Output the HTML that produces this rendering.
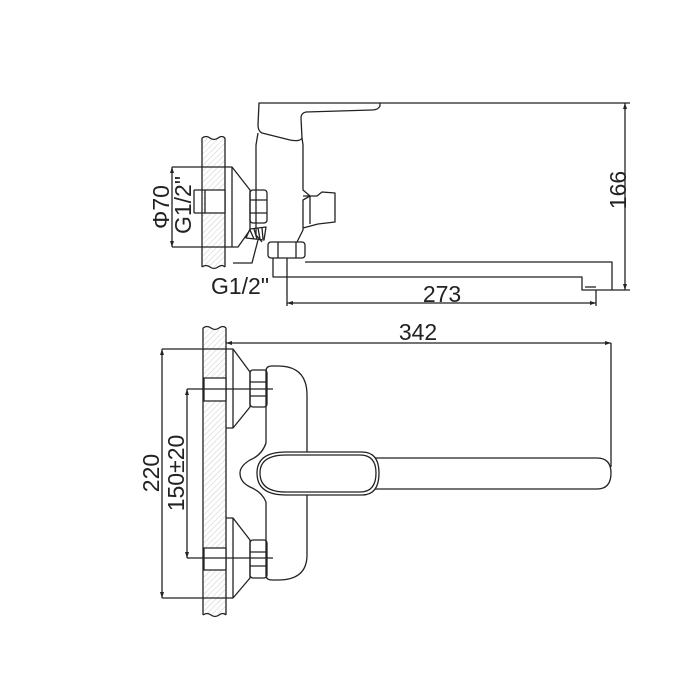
<!DOCTYPE html>
<html><head><meta charset="utf-8"><style>
html,body{margin:0;padding:0;background:#fff;}
svg{display:block;}
text{font-family:"Liberation Sans",sans-serif;fill:#222;}
</style></head><body>
<svg width="700" height="700" viewBox="0 0 700 700" xmlns="http://www.w3.org/2000/svg">
<defs>
<pattern id="h" width="4" height="4" patternUnits="userSpaceOnUse" patternTransform="rotate(45)">
<line x1="0" y1="0" x2="0" y2="4" stroke="#ccc" stroke-width="1"/>
</pattern>
</defs>
<g fill="none" stroke="#222" stroke-width="1.3" stroke-linejoin="round">
<rect x="203" y="138" width="22" height="129" fill="url(#h)" stroke="none"/>
<path d="M202 138 L202 267"/>
<path d="M225 138 L225 267"/>
<path d="M202 138 q4 -3 8 0 q4 3 8 0 q4 -3 7 0"/>
<path d="M202 267 q4 -3 8 0 q4 3 8 0 q4 -3 7 0"/>
<path d="M225 167 L232 167 L250 190 L250 230 L238 247 L225 247"/>
<path d="M232 167 L232 247"/>
<rect x="205" y="190" width="20" height="23" fill="#fff"/>
<path d="M172 167 L225 167 M172 247 L225 247 M172 167 L172 247"/>
<path d="M194 190 L205 190 M194 213 L205 213 M194 190 L194 213"/>
<rect x="250" y="190" width="17" height="33" rx="3"/>
<path d="M250 200 L267 200 M250 213 L267 213"/>
<path d="M246 238 L250 229 L266 227 L264 240 Z"/>
<path d="M250 230 L254 239 M254 229 L257 239 M258 228 L260 239 M262 228 L263 239"/>
<path d="M233 263 L252 263 L258 240"/>
<path d="M259 103 L380 103 L380 106 Q378 110 372 110 L306 112 Q301 113 301 118 L302 138 Q300 142 290 140 L262 133 Q258 131 258 125 Z"/>
<path d="M258 133 L256 145 L256 235 L262 242"/>
<path d="M302 138 L303 145 L303 190 L310 196 L303 200 L303 230 L297 242"/>
<path d="M303 196 L317 196 L322 192 L335 193 L335 222 L318 224 L303 228"/>
<path d="M310 196 L310 224"/>
<rect x="268" y="242" width="37" height="16" rx="3"/>
<path d="M278 242 L278 258 M296 242 L296 258"/>
<path d="M273 258 L273 277 L582 277 L582 290 L612 290 L612 262 L305 262"/>
<path d="M585 287 L596 287"/>
<path d="M380 103 L630 103 M612 290 L630 290 M625 103 L625 290"/>
<path d="M287 258 L287 306 M596 290 L596 306 M287 303 L596 303"/>

<rect x="204" y="330" width="22" height="284" fill="url(#h)" stroke="none"/>
<path d="M203 328 L203 615 M226 328 L226 615"/>
<path d="M203 328 q4 -3 8 0 q4 3 8 0 q4 -3 7 0"/>
<path d="M203 615 q4 -3 8 0 q4 3 8 0 q4 -3 7 0"/>
<path d="M226 349 L233 349 L250 372 L250 407 L233 428 L226 428"/>
<path d="M233 349 L233 428"/>
<path d="M226 518 L233 518 L250 540 L250 578 L233 598 L226 598"/>
<path d="M233 518 L233 598"/>
<rect x="204" y="378" width="22" height="23" fill="#fff"/>
<rect x="204" y="548" width="22" height="22" fill="#fff"/>
<rect x="250" y="370" width="17" height="37" rx="3"/>
<path d="M250 382 L267 382 M250 396 L267 396"/>
<rect x="250" y="540" width="17" height="38" rx="3"/>
<path d="M250 552 L267 552 M250 566 L267 566"/>
<path d="M266 443 L266 371 Q266 366 272 366 L278 366 Q307 366 307 395 L307 452"/>
<path d="M266 502 L266 575 Q266 580 272 580 L278 580 Q307 580 307 555 L307 490"/>
<path d="M266 443 Q262 455 250 460 Q240 466 240 473 Q240 482 250 487 Q262 492 266 502"/>
<path d="M286 452 L362 452 Q379 452 379 473 Q379 495 362 495 L286 495 Q257 495 257 473 Q257 452 286 452 Z" fill="#fff"/>
<path d="M286 455 L360 455 Q376 455 376 473 Q376 492 360 492 L286 492 Q260 492 260 473 Q260 455 286 455 Z"/>
<path d="M375 458 L597 458 Q611 458 611 473 Q611 489 597 489 L375 489"/>
<path d="M205 389 L273 389 M205 558 L273 558"/>
<path d="M226 343 L611 343 M611 343 L611 467"/>
<path d="M162 349 L226 349 M162 598 L226 598 M162 349 L162 598"/>
<path d="M187 389 L205 389 M187 558 L205 558 M187 389 L187 558"/>
</g>
<g fill="#222">
<path d="M625 103 l-2 6 l4 0 z M625 290 l-2 -6 l4 0 z"/>
<path d="M287 303 l6 -2 l0 4 z M596 303 l-6 -2 l0 4 z"/>
<path d="M226 343 l6 -2 l0 4 z M611 343 l-6 -2 l0 4 z"/>
<path d="M162 349 l-2 6 l4 0 z M162 598 l-2 -6 l4 0 z"/>
<path d="M187 389 l-2 6 l4 0 z M187 558 l-2 -6 l4 0 z"/>
<path d="M172 167 l-2 6 l4 0 z M172 247 l-2 -6 l4 0 z"/>
</g>
<g font-size="23">
<text x="442" y="302" text-anchor="middle">273</text>
<text x="418" y="340" text-anchor="middle">342</text>
<text x="240" y="294" text-anchor="middle">G1/2"</text>
<text transform="translate(626,190) rotate(-90)" text-anchor="middle">166</text>
<text transform="translate(169,207) rotate(-90)" text-anchor="middle">Φ70</text>
<text transform="translate(191,205) rotate(-90)" text-anchor="middle">G1/2"</text>
<text transform="translate(159,473) rotate(-90)" text-anchor="middle">220</text>
<text transform="translate(184,473) rotate(-90)" text-anchor="middle">150±20</text>
</g>
</svg>
</body></html>
